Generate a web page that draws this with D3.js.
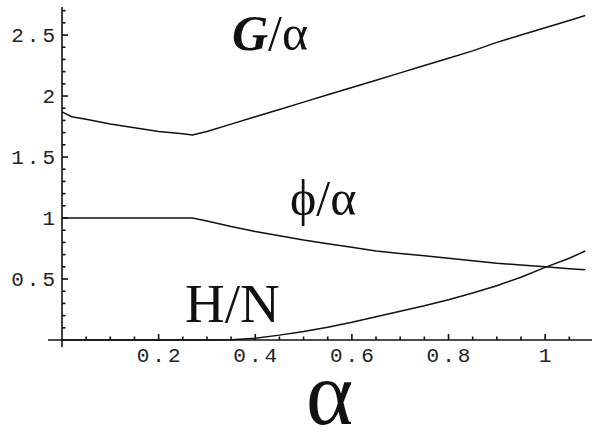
<!DOCTYPE html>
<html>
<head>
<meta charset="utf-8">
<script src="https://cdn.jsdelivr.net/npm/d3@7"></script>
<style>
  body { margin: 0; background: #fff; }
  .tick-label { font-family: "Liberation Mono", "DejaVu Sans Mono", monospace; font-size: 21px; letter-spacing: 3px; fill: #222; }
  .curve-label { font-family: "Liberation Serif", "Times New Roman", serif; fill: #111; }
</style>
</head>
<body>
<div id="chart"></div>
<script>
// values
var alpha = [0, 0.02, 0.05, 0.1, 0.15, 0.2, 0.25, 0.27, 0.3, 0.35, 0.4, 0.45, 0.5, 0.55, 0.6, 0.65, 0.7, 0.75, 0.8, 0.85, 0.9, 0.95, 1.0, 1.05, 1.083];
var gOverAlpha = [1.87, 1.83, 1.81, 1.77, 1.74, 1.71, 1.69, 1.68, 1.71, 1.77, 1.83, 1.89, 1.95, 2.01, 2.07, 2.13, 2.19, 2.25, 2.31, 2.37, 2.44, 2.50, 2.56, 2.62, 2.66];
var phiOverAlpha = [1, 1, 1, 1, 1, 1, 1, 1, 0.975, 0.93, 0.89, 0.855, 0.82, 0.79, 0.76, 0.73, 0.71, 0.69, 0.67, 0.65, 0.63, 0.615, 0.60, 0.585, 0.575];
var hOverN = [0, 0, 0, 0, 0, 0, 0, 0, 0, 0.003, 0.015, 0.04, 0.07, 0.105, 0.145, 0.19, 0.235, 0.28, 0.33, 0.385, 0.445, 0.515, 0.595, 0.67, 0.73];

var xMajor = [0.2, 0.4, 0.6, 0.8, 1];
var xTickText = ["0.2", "0.4", "0.6", "0.8", "1"];
var yMajor = [0.5, 1, 1.5, 2, 2.5];
var yTickText = ["0.5", "1", "1.5", "2", "2.5"];

var svgWidth = 593;
var svgHeight = 439;

var svg = d3.select("#chart")
    .append("svg")
    .attr("width", svgWidth)
    .attr("height", svgHeight);

// scales, origin sits at (62, 340)
var xScale = d3.scaleLinear()
    .domain([0, 1.097])
    .range([62, 592]);

var yScale = d3.scaleLinear()
    .domain([0, 2.73])
    .range([340, 7]);

// minor ticks
var xMinor = d3.range(0.05, 1.09, 0.05).filter(d => xMajor.every(m => Math.abs(m - d) > 1e-6));
var yMinor = d3.range(0.1, 2.72, 0.1).filter(d => yMajor.every(m => Math.abs(m - d) > 1e-6));

var axisGroup = svg.append("g")
    .attr("stroke", "#111")
    .attr("stroke-width", 1.6);

axisGroup.append("line")
    .attr("x1", xScale(0) - 14).attr("x2", xScale(1.097))
    .attr("y1", yScale(0)).attr("y2", yScale(0));

axisGroup.append("line")
    .attr("x1", xScale(0)).attr("x2", xScale(0))
    .attr("y1", yScale(2.73)).attr("y2", yScale(0) + 7);

axisGroup.selectAll(".xmaj")
    .data(xMajor)
    .enter()
    .append("line")
    .attr("x1", d => xScale(d)).attr("x2", d => xScale(d))
    .attr("y1", yScale(0)).attr("y2", yScale(0) - 6);

axisGroup.selectAll(".xmin")
    .data(xMinor)
    .enter()
    .append("line")
    .attr("x1", d => xScale(d)).attr("x2", d => xScale(d))
    .attr("y1", yScale(0)).attr("y2", yScale(0) - 3.5);

axisGroup.selectAll(".ymaj")
    .data(yMajor)
    .enter()
    .append("line")
    .attr("x1", xScale(0)).attr("x2", xScale(0) + 6)
    .attr("y1", d => yScale(d)).attr("y2", d => yScale(d));

axisGroup.selectAll(".ymin")
    .data(yMinor)
    .enter()
    .append("line")
    .attr("x1", xScale(0)).attr("x2", xScale(0) + 3.5)
    .attr("y1", d => yScale(d)).attr("y2", d => yScale(d));

// tick labels
svg.selectAll(".xlab")
    .data(xMajor)
    .enter()
    .append("text")
    .attr("class", "tick-label")
    .attr("x", d => xScale(d) + 1.5)
    .attr("y", yScale(0) + 22)
    .attr("text-anchor", "middle")
    .text((d, i) => xTickText[i]);

svg.selectAll(".ylab")
    .data(yMajor)
    .enter()
    .append("text")
    .attr("class", "tick-label")
    .attr("x", xScale(0) - 4)
    .attr("y", d => yScale(d) + 7)
    .attr("text-anchor", "end")
    .text((d, i) => yTickText[i]);

// curves
var line = d3.line()
    .x(d => xScale(d[0]))
    .y(d => yScale(d[1]));

[gOverAlpha, phiOverAlpha, hOverN].forEach(function(series) {
    svg.append("path")
        .datum(alpha.map((a, i) => [a, series[i]]))
        .attr("d", line)
        .attr("fill", "none")
        .attr("stroke", "#111")
        .attr("stroke-width", 1.5);
});

// curve labels
var gLabel = svg.append("text")
    .attr("class", "curve-label")
    .attr("x", 232)
    .attr("y", 50)
    .attr("font-size", 50);
gLabel.append("tspan")
    .attr("font-weight", "bold")
    .attr("font-style", "italic")
    .text("G");
gLabel.append("tspan").text("/α");

svg.append("text")
    .attr("class", "curve-label")
    .attr("x", 290)
    .attr("y", 215)
    .attr("font-size", 50)
    .text("ϕ/α");

svg.append("text")
    .attr("class", "curve-label")
    .attr("x", 185)
    .attr("y", 322)
    .attr("font-size", 55)
    .text("H/N");

// axis title
svg.append("text")
    .attr("class", "curve-label")
    .attr("x", 306)
    .attr("y", 424)
    .attr("font-size", 90)
    .text("α");
</script>
</body>
</html>
